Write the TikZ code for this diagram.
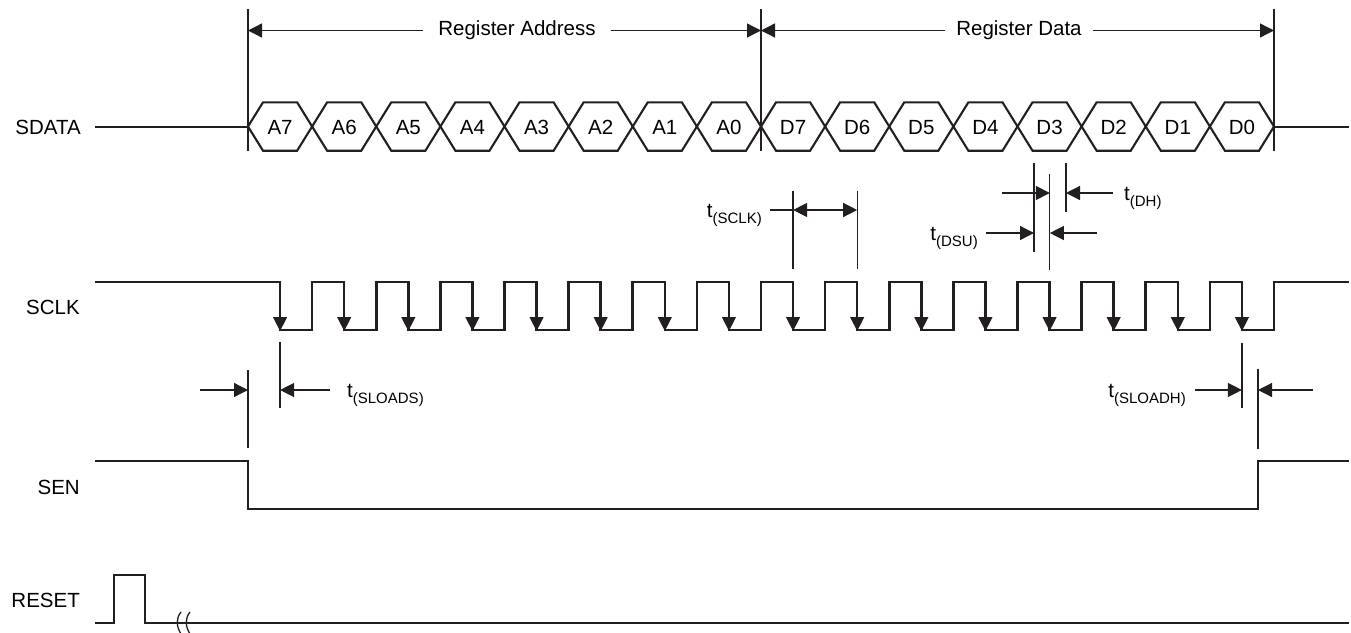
\documentclass[tikz,border=0pt]{standalone}
\usepackage{fontspec}
\setmainfont{Liberation Sans}
\usepackage{tikz}
\usetikzlibrary{arrows.meta,positioning}
\definecolor{wave}{RGB}{35,31,32}
\newcommand{\tlbl}[1]{t\raisebox{-6pt}{\fontsize{15}{15}\selectfont(#1)}}

\begin{document}
\begin{tikzpicture}[x=1pt,y=-1pt,
    sig/.style={draw=wave,line width=2.6pt},
    cell/.style={draw=wave,line width=2.1pt},
    thin/.style={draw=wave,line width=1.3pt},
    tip/.style={thin,-{Triangle[length=14pt,width=14pt]}},
    tips/.style={thin,{Triangle[length=14pt,width=14pt]}-{Triangle[length=14pt,width=14pt]}},
    txt/.style={inner sep=0pt,font=\fontsize{20.5}{24}\selectfont}]
      \useasboundingbox (0,0) rectangle (1351,632);
      \node[txt,anchor=east] (sdata) at (81,127) {SDATA};
      \node[txt,anchor=east] (sclk) at (80,307) {SCLK};
      \node[txt,anchor=east] (sen) at (80,487) {SEN};
      \node[txt,anchor=east] (reset) at (80,600) {RESET};
      \draw[thin] (248,9) -- (248,151);
      \draw[thin] (761,9) -- (761,151);
      \draw[thin] (1274,9) -- (1274,151);
      \coordinate (ra0) at (248,30.5);
      \coordinate (ra1) at (761,30.5);
      \coordinate (rd1) at (1274,30.5);
      \node[txt,inner xsep=15pt] (regaddr) at (517,30.5) {Register Address};
      \node[txt,inner xsep=11pt] (regdata) at (1019,30.5) {Register Data};
      \draw[tip] (regaddr) -- (ra0);
      \draw[tip] (regaddr) -- (ra1);
      \draw[tip] (regdata) -- (ra1);
      \draw[tip] (regdata) -- (rd1);
      \draw[sig] (95,127) -- (248,127);
      \draw[sig] (1274,127) -- (1349,127);
      \foreach \n [count=\k from 0] in {A7,A6,A5,A4,A3,A2,A1,A0,D7,D6,D5,D4,D3,D2,D1,D0} {
        \pgfmathsetmacro\xa{248+64.125*\k}
        \pgfmathsetmacro\xb{\xa+64.125}
        \draw[cell] (\xa,126.5) -- (\xa+15,102.3) -- (\xb-15,102.3) -- (\xb,126.5)
          -- (\xb-15,150.7) -- (\xa+15,150.7) -- cycle;
        \node[txt,anchor=base] (\n) at (\xa+32.06,134.3) {\n};
      }
      \draw[sig] (95,282) \foreach \k in {0,...,15} {
          -- ({280.06+64.125*\k},282) -- ({280.06+64.125*\k},330)
          -- ({312.125+64.125*\k},330) -- ({312.125+64.125*\k},282)} -- (1349,282);
      \foreach \k in {0,...,15} \draw[tip] ({280.06+64.125*\k},292) -- ({280.06+64.125*\k},331);
      \draw[thin] (793.1,191) -- (793.1,269);
      \draw[thin] (857.2,191) -- (857.2,269);
      \coordinate (sc0) at (770,210);
      \coordinate (sc1) at (793.1,210);
      \coordinate (sc2) at (857.2,210);
      \node[txt,anchor=base east] (tsclk) at (762,217) {\tlbl{SCLK}};
      \draw[thin] (sc0) -- (sc1);
      \draw[tips] (sc1) -- (sc2);
      \draw[thin] (1034,163) -- (1034,252);
      \draw[thin] (1049.8,174) -- (1049.8,270);
      \draw[thin] (1066,163) -- (1066,212);
      \coordinate (dh0) at (1002,193);
      \coordinate (dh1) at (1049.8,193);
      \coordinate (dh2) at (1066,193);
      \coordinate (dh3) at (1113,193);
      \draw[tip] (dh0) -- (dh1);
      \draw[tip] (dh3) -- (dh2);
      \node[txt,anchor=base west] (tdh) at (1124,200) {\tlbl{DH}};
      \coordinate (su0) at (986,233);
      \coordinate (su1) at (1034,233);
      \coordinate (su2) at (1049.8,233);
      \coordinate (su3) at (1097,233);
      \draw[tip] (su0) -- (su1);
      \draw[tip] (su3) -- (su2);
      \node[txt,anchor=base east] (tdsu) at (978,240) {\tlbl{DSU}};
      \draw[thin] (248,370) -- (248,448);
      \draw[thin] (280.06,342) -- (280.06,408);
      \coordinate (ls0) at (200,390);
      \coordinate (ls1) at (248,390);
      \coordinate (ls2) at (280.06,390);
      \coordinate (ls3) at (330,390);
      \draw[tip] (ls0) -- (ls1);
      \draw[tip] (ls3) -- (ls2);
      \node[txt,anchor=base west] (tsloads) at (347,397) {\tlbl{SLOADS}};
      \draw[thin] (1241.9,343) -- (1241.9,408);
      \draw[thin] (1258,369) -- (1258,449);
      \coordinate (lh0) at (1195,390);
      \coordinate (lh1) at (1241.9,390);
      \coordinate (lh2) at (1258,390);
      \coordinate (lh3) at (1313,390);
      \draw[tip] (lh0) -- (lh1);
      \draw[tip] (lh3) -- (lh2);
      \node[txt,anchor=base east] (tsloadh) at (1186,397) {\tlbl{SLOADH}};
      \draw[sig] (95,461) -- (248,461) -- (248,509) -- (1258,509) -- (1258,461) -- (1349,461);
      \draw[sig] (95,623) -- (114,623) -- (114,575) -- (145,575) -- (145,623) -- (1349,623);
      \draw[thin] (181,612) .. controls (176,618) and (176,626) .. (181,634);
      \draw[thin] (190,612) .. controls (185,618) and (185,626) .. (190,634);
    \end{tikzpicture}
\end{document}
